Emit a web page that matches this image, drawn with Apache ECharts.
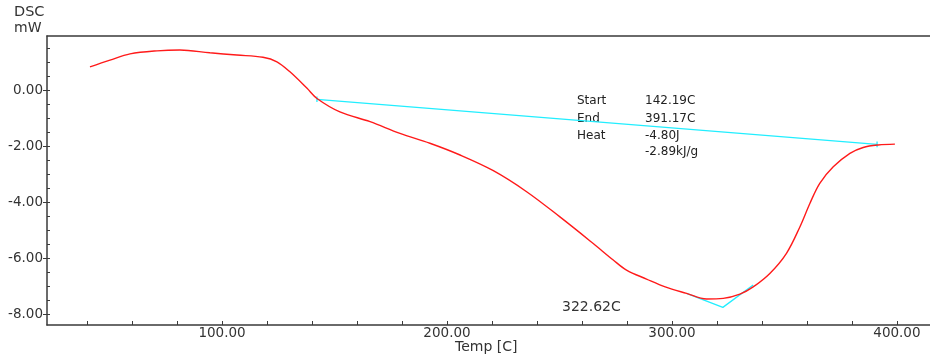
<!DOCTYPE html>
<html>
<head>
<meta charset="utf-8">
<script src="https://cdn.jsdelivr.net/npm/echarts@6/dist/echarts.min.js"></script>
<style>html,body{margin:0;padding:0;background:#fff}#c{width:930px;height:356px}</style>
</head>
<body>
<div id="c"></div>
<script>
// DSC curve (Temp in C, heat flow in mW)
const tempC = [41.3, 50.2, 59.1, 71.1, 81.3, 94.6, 106.6, 118.2, 124.4, 130.2, 137.8, 142.2, 152.4, 165.8, 179.1, 192.4, 205.8, 220.6, 235.4, 250.2, 265.0, 273.9, 279.8, 288.7, 297.0, 306.5, 315.4, 322.8, 330.2, 336.1, 343.5, 350.9, 356.9, 361.3, 365.7, 371.7, 379.1, 385.0, 391.7, 399.1];
const dscMW = [0.83, 1.07, 1.29, 1.40, 1.43, 1.33, 1.25, 1.17, 1.01, 0.65, 0.06, -0.30, -0.78, -1.13, -1.55, -1.90, -2.32, -2.88, -3.63, -4.53, -5.48, -6.07, -6.43, -6.75, -7.03, -7.26, -7.46, -7.44, -7.29, -7.03, -6.55, -5.83, -4.88, -4.05, -3.33, -2.74, -2.26, -2.05, -1.96, -1.93];
// integration baseline
const baselineT = [142.19, 391.17];
const baselineV = [-0.33, -1.94];
// peak tangent construction
const peakT = [306.5, 322.62, 336.1];
const peakV = [-7.26, -7.76, -6.96];
// axis ticks
const xMajorTicks = [100, 200, 300, 400];
const xMinorTicks = [40, 60, 80, 100, 120, 140, 160, 180, 200, 220, 240, 260, 280, 300, 320, 340, 360, 380, 400];
const yMajorTicks = [-8, -6, -4, -2, 0];
const yMinorTicks = [-8, -7.5, -7, -6.5, -6, -5.5, -5, -4.5, -4, -3.5, -3, -2.5, -2, -1.5, -1, -0.5, 0, 0.5, 1, 1.5];
// annotation texts
const resultNames = ['Start', 'End', 'Heat', ''];
const resultValues = ['142.19C', '391.17C', '-4.80J', '-2.89kJ/g'];
const peakLabel = '322.62C';

const X_MIN = 22.2, X_MAX = 414.7, Y_MIN = -8.39, Y_MAX = 1.93;
const FONT = '"DejaVu Sans", Verdana, sans-serif';
const AXC = '#3a3a3a';
const CYAN = '#22eeff';

const pairs = (a, b) => a.map((v, i) => [v, b[i]]);
const crossMark = (t, v) => [[t, v + 0.1], [t, v - 0.1]];

const chart = echarts.init(document.getElementById('c'), null, {renderer: 'canvas'});

const graphics = [
  {type: 'text', left: 14, top: 5, style: {text: 'DSC', font: '14.5px ' + FONT, fill: '#333'}},
  {type: 'text', left: 14, top: 21, style: {text: 'mW', font: '14px ' + FONT, fill: '#333'}},
  {type: 'text', left: 455, top: 340, style: {text: 'Temp [C]', font: '14px ' + FONT, fill: '#333'}},
  {type: 'text', left: 562, top: 300, style: {text: peakLabel, font: '14px ' + FONT, fill: '#333'}}
];
const rowY = [95, 113, 130, 146];
resultNames.forEach((n, i) => {
  if (n) graphics.push({type: 'text', left: 577, top: rowY[i], style: {text: n, font: '12px ' + FONT, fill: '#222'}});
  graphics.push({type: 'text', left: 645, top: rowY[i], style: {text: resultValues[i], font: '12px ' + FONT, fill: '#222'}});
});

chart.setOption({
  animation: false,
  backgroundColor: '#fff',
  grid: {left: 47, right: 0, top: 36, bottom: 31, containLabel: false, outerBoundsMode: 'none'},
  xAxis: [
    {
      type: 'value', min: X_MIN, max: X_MAX, position: 'bottom',
      axisLine: {show: true, onZero: false, lineStyle: {color: AXC, width: 1.5}},
      axisTick: {show: true, inside: true, length: 4, lineStyle: {color: AXC}, customValues: xMinorTicks},
      axisLabel: {show: true, margin: 1, color: '#333', fontSize: 13.5, fontFamily: FONT,
        customValues: xMajorTicks, formatter: v => v.toFixed(2)},
      splitLine: {show: false}
    },
    {
      type: 'value', min: X_MIN, max: X_MAX, position: 'top',
      axisLine: {show: true, onZero: false, lineStyle: {color: AXC, width: 1.5}},
      axisTick: {show: false}, axisLabel: {show: false}, splitLine: {show: false}
    }
  ],
  yAxis: [
    {
      type: 'value', min: Y_MIN, max: Y_MAX, position: 'left',
      axisLine: {show: true, onZero: false, lineStyle: {color: AXC, width: 1.5}},
      axisTick: {show: true, inside: false, length: 4, lineStyle: {color: AXC}, customValues: yMajorTicks},
      axisLabel: {show: true, margin: 4, color: '#333', fontSize: 13.5, fontFamily: FONT,
        customValues: yMajorTicks, formatter: v => v.toFixed(2)},
      splitLine: {show: false}
    },
    {
      type: 'value', min: Y_MIN, max: Y_MAX, position: 'left',
      axisLine: {show: false, onZero: false},
      axisTick: {show: true, inside: true, length: 3, lineStyle: {color: AXC}, customValues: yMinorTicks},
      axisLabel: {show: false}, splitLine: {show: false}
    }
  ],
  series: [
    {
      type: 'line', data: pairs(baselineT, baselineV), symbol: 'none', silent: true,
      lineStyle: {color: CYAN, width: 1.3}, z: 2
    },
    {
      type: 'line', data: crossMark(baselineT[0], baselineV[0]), symbol: 'none',
      lineStyle: {color: CYAN, width: 1.3}, z: 2
    },
    {
      type: 'line', data: crossMark(baselineT[1], baselineV[1]), symbol: 'none',
      lineStyle: {color: CYAN, width: 1.3}, z: 2
    },
    {
      type: 'line', data: pairs(peakT, peakV), symbol: 'none',
      lineStyle: {color: CYAN, width: 1.3}, z: 2
    },
    {
      type: 'line', data: pairs(tempC, dscMW), symbol: 'none', smooth: 0.35,
      lineStyle: {color: '#ff1a1a', width: 1.4}, z: 3
    }
  ],
  graphic: graphics
});
</script>
</body>
</html>
